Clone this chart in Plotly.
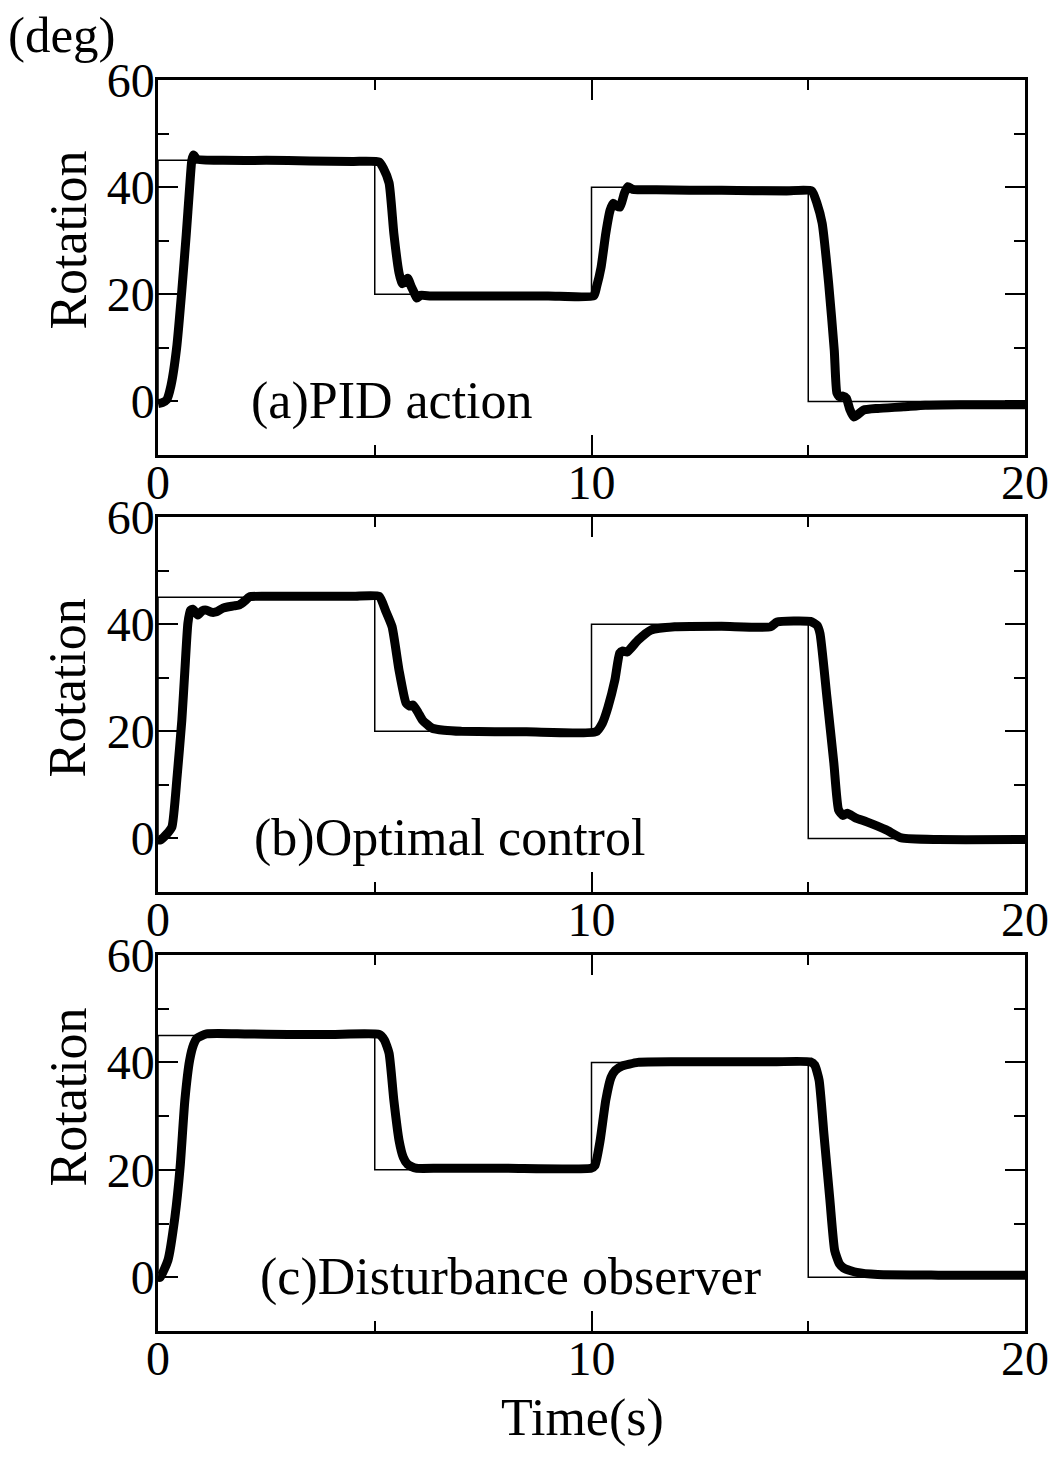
import plotly.graph_objects as go

# Setpoint (thin step line), shared by all three runs
t_set = [0, 0, 5, 10, 15, 20]
y_set = [0, 45, 20, 40, 0, 0]

# (a) PID action
t_pid = [0, 0.1, 0.2, 0.3, 0.43, 0.55, 0.65, 0.73, 0.78, 0.82, 0.9, 1.5, 2.5, 3.5, 4.5,
         5.1, 5.2, 5.33, 5.44, 5.56, 5.63, 5.7, 5.76, 5.84, 5.92, 5.97, 6.05, 6.3, 7.5, 9,
         10.05, 10.12, 10.22, 10.33, 10.43, 10.5, 10.58, 10.66, 10.76, 10.84, 10.95, 11.5, 13, 14.5,
         15.08, 15.2, 15.32, 15.47, 15.6, 15.66, 15.72, 15.8, 15.88, 15.96, 16.05, 16.15, 16.28,
         16.6, 17.2, 17.7, 18.5, 20]
y_pid = [-0.4, -0.2, 0.3, 3, 10, 20.8, 31, 40, 45, 46, 45.2, 45, 45, 44.9, 44.8,
         44.7, 43.5, 40.8, 31.4, 24, 22, 22.3, 23, 21.5, 20.1, 19.3, 19.8, 19.7, 19.7, 19.7,
         19.7, 21.5, 25, 31.4, 35.7, 37, 36.5, 36.3, 38.9, 40.1, 39.6, 39.5, 39.4, 39.3,
         39.3, 37, 33.3, 22.1, 9.6, 1.6, 0.9, 1, 0.6, -1.5, -2.9, -2.4, -1.6,
         -1.3, -1.0, -0.7, -0.6, -0.6]

# (b) Optimal control
t_opt = [0, 0.05, 0.2, 0.32, 0.44, 0.55, 0.62, 0.69, 0.75, 0.8, 0.92, 1.02, 1.12, 1.25, 1.35,
         1.5, 1.6, 1.75, 1.88, 2.0, 2.11, 2.5, 3.5, 4.5,
         5.1, 5.25, 5.4, 5.56, 5.72, 5.8, 5.88, 6.0, 6.1, 6.32, 6.6, 7, 8.5,
         10.1, 10.25, 10.38, 10.54, 10.65, 10.72, 10.82, 11.07, 11.37, 11.92, 13, 14.13, 14.28,
         15.05, 15.2, 15.27, 15.43, 15.59, 15.7, 15.8, 15.9, 16.1, 16.35, 16.8, 17.15, 18, 20]
y_opt = [-0.3, -0.3, 0.8, 2.1, 11.5, 22.1, 31.4, 40.2, 42.6, 42.8, 41.7, 42.5, 42.6, 42.2, 42.3,
         43.0, 43.2, 43.4, 43.6, 44.3, 45.1, 45.2, 45.2, 45.2,
         45.2, 42.5, 39.5, 31.4, 25.3, 24.7, 24.9, 23.5, 22.1, 20.6, 20.2, 20.0, 19.9,
         19.9, 21.5, 24.5, 29.6, 34.6, 35.0, 34.8, 37.0, 38.9, 39.5, 39.6, 39.5, 40.4,
         40.5, 39.8, 38.3, 26.4, 14.1, 5.3, 4.3, 4.7, 3.8, 3.1, 1.6, 0.1, -0.2, -0.2]

# (c) Disturbance observer
t_dob = [0, 0.05, 0.23, 0.39, 0.51, 0.62, 0.73, 0.82, 0.9, 1.12, 2, 3, 4,
         5.1, 5.22, 5.33, 5.44, 5.56, 5.66, 5.76, 5.95, 6.5, 8,
         9.99, 10.08, 10.2, 10.33, 10.45, 10.55, 10.7, 11.07, 12, 14,
         15.05, 15.15, 15.25, 15.36, 15.5, 15.61, 15.72, 15.82, 16.12, 16.6, 18, 20]
y_dob = [0, 0, 3.2, 11.2, 20.5, 33, 40.4, 43.3, 44.5, 45.3, 45.3, 45.2, 45.2,
         45.2, 44.2, 41.7, 33, 25.5, 22.3, 21, 20.3, 20.3, 20.3,
         20.3, 20.8, 25.5, 33, 37.2, 38.5, 39.3, 40.0, 40.1, 40.1,
         40.1, 39.5, 36.7, 26.8, 14.3, 5.0, 2.5, 1.7, 0.9, 0.5, 0.4, 0.4]

panel_labels = ["(a)PID action", "(b)Optimal control", "(c)Disturbance observer"]
x_ticks = [0, 10, 20]
y_ticks = [0, 20, 40, 60]

FONT = "Liberation Serif"
domains = [[0.7002, 1.0], [0.3509, 0.6507], [0.0, 0.3006]]
runs = [(t_pid, y_pid), (t_opt, y_opt), (t_dob, y_dob)]
label_x = [2.11, 2.16, 2.3]

fig = go.Figure()
for i, (tt, yy) in enumerate(runs):
    xa = "x" if i == 0 else f"x{i+1}"
    ya = "y" if i == 0 else f"y{i+1}"
    fig.add_trace(go.Scatter(x=t_set, y=y_set, mode="lines", line=dict(color="black", width=1.5, shape="hv"),
                             xaxis=xa, yaxis=ya, showlegend=False, hoverinfo="skip"))
    fig.add_trace(go.Scatter(x=tt, y=yy, mode="lines",
                             line=dict(color="black", width=9, shape="spline", smoothing=0.5),
                             xaxis=xa, yaxis=ya, showlegend=False))

common = dict(showgrid=False, zeroline=False, showline=True, linecolor="black", linewidth=2.5,
              mirror="ticks", ticks="inside", tickwidth=2, tickcolor="black", ticklen=20,
              tickfont=dict(family=FONT, size=48, color="black"))

layout = dict(width=1061, height=1458, paper_bgcolor="white", plot_bgcolor="white",
              margin=dict(l=158, r=32, t=80, b=127), showlegend=False)
for i in range(3):
    xk = "xaxis" if i == 0 else f"xaxis{i+1}"
    yk = "yaxis" if i == 0 else f"yaxis{i+1}"
    ya = "y" if i == 0 else f"y{i+1}"
    xa = "x" if i == 0 else f"x{i+1}"
    layout[xk] = dict(common, range=[0, 20], tickvals=x_ticks, anchor=ya, domain=[0, 1],
                      ticklabelstandoff=-16,
                      minor=dict(dtick=5, tick0=0, ticks="inside", ticklen=10, tickwidth=2,
                                 tickcolor="black", showgrid=False))
    layout[yk] = dict(common, range=[-10, 60], tickvals=y_ticks, anchor=xa, domain=domains[i],
                      ticklabelstandoff=-9,
                      minor=dict(dtick=10, tick0=0, ticks="inside", ticklen=11, tickwidth=2,
                                 tickcolor="black", showgrid=False))
fig.update_layout(**layout)

ann = []
for i in range(3):
    xa = "x" if i == 0 else f"x{i+1}"
    ya = "y" if i == 0 else f"y{i+1}"
    ann.append(dict(text=panel_labels[i], x=label_x[i], y=0, xref=xa, yref=ya, xanchor="left",
                    yanchor="middle", showarrow=False, font=dict(family=FONT, size=52, color="black")))
for yc in [0.872, 0.514, 0.187]:
    ann.append(dict(text="Rotation", x=-0.1033, y=yc, xref="paper", yref="paper", textangle=-90,
                    xanchor="center", yanchor="middle", showarrow=False,
                    font=dict(family=FONT, size=52, color="black")))
ann.append(dict(text="(deg)", x=-0.1108, y=1.036, xref="paper", yref="paper", xanchor="center",
                yanchor="middle", showarrow=False, font=dict(family=FONT, size=51, color="black")))
ann.append(dict(text="Time(s)", x=0.490, y=-0.0695, xref="paper", yref="paper", xanchor="center",
                yanchor="middle", showarrow=False, font=dict(family=FONT, size=52, color="black")))
fig.update_layout(annotations=ann)

fig.write_html("out.html")
